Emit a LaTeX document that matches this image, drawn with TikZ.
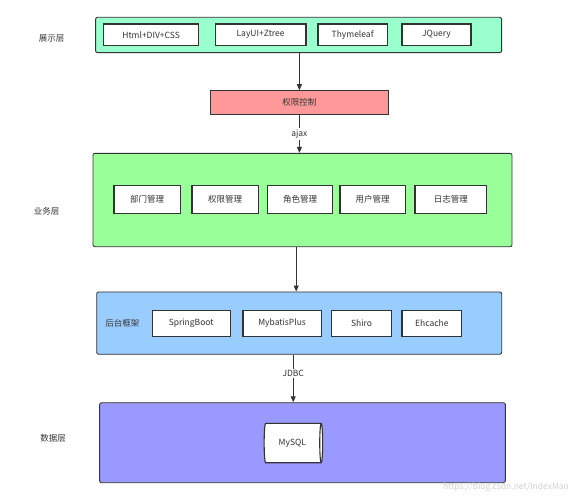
\documentclass[tikz,border=0pt]{standalone}
\usepackage{fontspec}
\setmainfont{Noto Sans CJK SC}
\usetikzlibrary{shapes.geometric,arrows.meta}
\definecolor{edge}{HTML}{333333}
\definecolor{txt}{HTML}{333333}
\definecolor{cview}{HTML}{99FFCC}
\definecolor{cbiz}{HTML}{99FF99}
\definecolor{cback}{HTML}{99CCFF}
\definecolor{cdata}{HTML}{9999FF}
\definecolor{cperm}{HTML}{FF9999}
\begin{document}
\begin{tikzpicture}[x=1pt,y=-1pt,
  every node/.style={font=\fontsize{8.5}{10}\selectfont, text=txt, inner sep=0pt},
  layer/.style={draw=edge, line width=0.9pt, rounded corners=2pt},
  item/.style={draw=edge, line width=1.2pt, fill=white},
  lab/.style={font=\fontsize{8.5}{10}\selectfont},
  arr/.style={draw=edge, line width=1pt, -{Triangle[length=6pt,width=5pt]}}]
\useasboundingbox (0,0) rectangle (585,500);
\fill[white] (0,0) rectangle (585,500);
% layer 1
\node[layer, fill=cview, minimum width=406pt, minimum height=35.4pt] (view) at (298.6,35) {};
\node[item, minimum width=95.2pt, minimum height=21.7pt] (html) at (151.1,34.8) {Html+DIV+CSS};
\node[item, minimum width=90.8pt, minimum height=21.7pt] (layui) at (260.6,34.8) {LayUI+Ztree};
\node[item, minimum width=69.3pt, minimum height=21.7pt] (thy) at (352.6,34.8) {Thymeleaf};
\node[item, minimum width=69pt, minimum height=21.7pt] (jq) at (436.5,34.8) {JQuery};
\node[lab] (lview) at (51.5,38.5) {展示层};
% permission
\node[draw=edge, line width=0.9pt, fill=cperm, minimum width=178.8pt, minimum height=23.6pt] (perm) at (299.4,102.5) {权限控制};
% layer 2
\node[layer, fill=cbiz, minimum width=419pt, minimum height=93.4pt] (biz) at (302.5,200) {};
\node[item, minimum width=66.4pt, minimum height=27.6pt] (b1) at (147.2,199.5) {部门管理};
\node[item, minimum width=66.3pt, minimum height=27.6pt] (b2) at (225.1,199.5) {权限管理};
\node[item, minimum width=64.5pt, minimum height=27.6pt] (b3) at (300,199.5) {角色管理};
\node[item, minimum width=65.3pt, minimum height=27.6pt] (b4) at (372.6,199.5) {用户管理};
\node[item, minimum width=71.7pt, minimum height=27.6pt] (b5) at (450.8,199.5) {日志管理};
\node[lab] (lbiz) at (46.5,211.5) {业务层};
% layer 3
\node[layer, fill=cback, minimum width=405pt, minimum height=62.3pt] (back) at (299.2,323.1) {};
\node[lab] (lback) at (122.3,323.3) {后台框架};
\node[item, minimum width=78pt, minimum height=25.6pt] (sb) at (191.2,323.5) {SpringBoot};
\node[item, minimum width=78.3pt, minimum height=25.6pt] (mp) at (282.1,323.5) {MybatisPlus};
\node[item, minimum width=59.7pt, minimum height=25.6pt] (shiro) at (361.6,323.5) {Shiro};
\node[item, minimum width=59.6pt, minimum height=25.6pt] (eh) at (431.8,323.5) {Ehcache};
% layer 4
\node[layer, fill=cdata, minimum width=405.7pt, minimum height=80pt] (data) at (302.5,442.7) {};
\node[lab] (ldata) at (53,438.5) {数据层};
\node[cylinder, draw=edge, line width=1.1pt, fill=white, shape aspect=0.35,
      minimum width=39.4pt, minimum height=58.5pt, inner xsep=4pt] (mysql) at (292.4,443) {MySQL};
% watermark
\node[font=\fontsize{8.5}{10}\selectfont, text=black!18] (wm) at (506,487) {https://blog.csdn.net/IndexMan};
% connectors
\draw[arr] (perm.north |- view.south) -- (perm.north);
\draw[arr] (perm.south) -- node[fill=white, inner sep=1.5pt] (ajax) {ajax} (perm.south |- biz.north);
\draw[arr] ([xshift=-6.3pt]biz.south) -- ([xshift=-6.3pt]biz.south |- back.north);
\draw[arr] ([xshift=-6pt]back.south) -- node[pos=0.4, fill=white, inner sep=1.5pt] (jdbc) {JDBC} ([xshift=-6pt]back.south |- data.north);
\end{tikzpicture}
\end{document}
